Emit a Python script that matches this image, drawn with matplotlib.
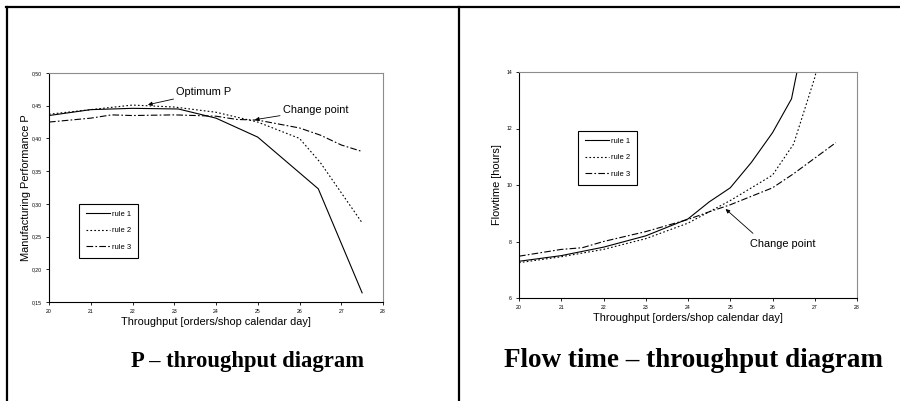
import matplotlib.pyplot as plt
from matplotlib.lines import Line2D
from matplotlib.ticker import FuncFormatter

# P - throughput data
p_x1 = [20, 21, 22, 23.1, 24, 25, 26.45, 27.5]
p_rule1 = [0.435, 0.444, 0.446, 0.445, 0.431, 0.402, 0.323, 0.164]
p_x2 = [20, 21, 22, 23, 24, 25, 26, 26.5, 27, 27.5]
p_rule2 = [0.437, 0.444, 0.451, 0.448, 0.440, 0.425, 0.400, 0.363, 0.317, 0.271]
p_x3 = [20, 21, 21.5, 22, 23, 24, 24.5, 25, 26, 26.5, 27, 27.5]
p_rule3 = [0.425, 0.431, 0.436, 0.435, 0.436, 0.434, 0.429, 0.428, 0.416, 0.405, 0.390, 0.380]

# Flow time - throughput data
f_x1 = [20, 21, 22, 23, 24, 24.5, 25, 25.5, 26, 26.45, 27]
f_rule1 = [7.30, 7.50, 7.80, 8.20, 8.80, 9.40, 9.90, 10.80, 11.85, 13.05, 17.1]
f_x2 = [20, 21, 22, 23, 24, 25, 26, 26.5, 27, 27.5]
f_rule2 = [7.25, 7.46, 7.72, 8.10, 8.65, 9.45, 10.35, 11.45, 13.8, 17.0]
f_x3 = [20, 21, 21.5, 22, 23, 24, 24.5, 25, 26, 26.5, 27, 27.5]
f_rule3 = [7.48, 7.72, 7.78, 8.00, 8.35, 8.78, 9.05, 9.30, 9.90, 10.40, 10.95, 11.50]

x_ticks = list(range(20, 29))
labels = ['rule 1', 'rule 2', 'rule 3']
styles = ['-', (0, (1.5, 2)), (0, (6, 2, 1.5, 2))]

fig = plt.figure(figsize=(9, 4.01), dpi=100)
plt.rcParams['font.family'] = ['Liberation Sans', 'DejaVu Sans']

# table frame lines
fig.add_artist(Line2D([6/900, 1], [1 - 7/401, 1 - 7/401], color='black', lw=1.6))
fig.add_artist(Line2D([7/900, 7/900], [0, 1 - 7/401], color='black', lw=1.6))
fig.add_artist(Line2D([459/900, 459/900], [0, 1 - 7/401], color='black', lw=1.6))


def setup(ax, yticks, fmt):
    ax.set_xlim(20, 28)
    ax.set_xticks(x_ticks)
    ax.set_yticks(yticks)
    ax.set_ylim(yticks[0], yticks[-1])
    ax.yaxis.set_major_formatter(FuncFormatter(fmt))
    ax.tick_params(labelsize=3.7, length=2, width=0.6, pad=3)
    ax.spines['top'].set_color('#8c8c8c')
    ax.spines['right'].set_color('#8c8c8c')
    for s in ['top', 'right', 'left', 'bottom']:
        ax.spines[s].set_linewidth(0.8)
    ax.set_xlabel('Throughput [orders/shop calendar day]', fontsize=7.9, labelpad=2)


def legend(ax, bbox):
    leg = ax.legend(labels, loc='upper left', bbox_to_anchor=bbox, fontsize=5.5,
                    handlelength=3.2, handletextpad=0.15, labelspacing=1.2,
                    borderpad=0.9, borderaxespad=0, fancybox=False, framealpha=1)
    leg.get_frame().set_edgecolor('black')
    leg.get_frame().set_linewidth(0.8)


arrow = dict(arrowstyle='-|>', color='black', lw=0.6, mutation_scale=6,
             shrinkA=0, shrinkB=0)

# left chart
ax1 = fig.add_axes([49/900, 1 - 302/401, 334/900, 229/401])
ax1.plot(p_x1, p_rule1, color='black', lw=0.8, ls=styles[0])
ax1.plot(p_x2, p_rule2, color='black', lw=0.8, ls=styles[1])
ax1.plot(p_x3, p_rule3, color='black', lw=0.8, ls=styles[2])
setup(ax1, [0.15, 0.20, 0.25, 0.30, 0.35, 0.40, 0.45, 0.50],
      lambda v, p: ('%.2f' % v).replace('.', ','))
ax1.set_ylabel('Manufacturing Performance P', fontsize=7.9, labelpad=1)
legend(ax1, (0.09, 0.43))
ax1.annotate('Optimum P', xy=(22.37, 0.4515), xytext=(23.05, 0.4705),
             fontsize=7.9, va='center', ha='left', arrowprops=arrow)
ax1.annotate('Change point', xy=(24.93, 0.4286), xytext=(25.6, 0.4435),
             fontsize=7.9, va='center', ha='left', arrowprops=arrow)

# right chart
ax2 = fig.add_axes([519/900, 1 - 298/401, 338/900, 226/401])
ax2.plot(f_x1, f_rule1, color='black', lw=0.8, ls=styles[0])
ax2.plot(f_x2, f_rule2, color='black', lw=0.8, ls=styles[1])
ax2.plot(f_x3, f_rule3, color='black', lw=0.8, ls=styles[2])
setup(ax2, [6, 8, 10, 12, 14], lambda v, p: '%d' % v)
ax2.set_ylabel('Flowtime [hours]', fontsize=7.9, labelpad=3)
legend(ax2, (0.175, 0.74))
ax2.annotate('Change point', xy=(24.89, 9.15), xytext=(25.46, 7.9),
             fontsize=7.9, va='center', ha='left',
             arrowprops=dict(arrow, relpos=(0.05, 1.6)))

# captions
fig.text(248/900, 1 - 367/401, 'P \u2013 throughput diagram', fontsize=16.3,
         family='Liberation Serif', weight='bold', ha='center', va='baseline')
fig.text(693/900, 1 - 367/401, 'Flow time \u2013 throughput diagram', fontsize=19.5,
         family='Liberation Serif', weight='bold', ha='center', va='baseline')

fig.savefig('out.png', dpi=100)
